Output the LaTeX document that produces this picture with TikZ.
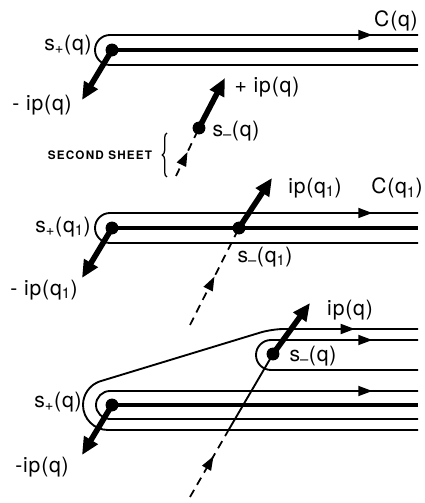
\documentclass[tikz,border=0pt]{standalone}
\usepackage{fontspec}
\setmainfont{TeX Gyre Heros}[LetterSpace=4]
\newfontfamily\sheetfont{TeX Gyre Heros}[LetterSpace=10]
\usetikzlibrary{arrows.meta,decorations.markings,decorations.pathreplacing}

\begin{document}
\begin{tikzpicture}[
x=0.03cm, y=0.03cm,
contour/.style={line width=1.6pt},
cut/.style={line width=3pt},
dot/.style={circle, fill, inner sep=0pt, minimum size=11pt},
push/.style={-{Triangle[length=15pt, width=13pt]}, line width=4.8pt},
sheet/.style={line width=1.5pt, dash pattern=on 7pt off 5pt},
flow/.style={postaction={decorate, decoration={markings, mark=at position #1 with {\arrow[solid]{Triangle[length=12pt, width=8.5pt]}}}}},
flow/.default=-39pt,
lbl/.style={font=\fontsize{18}{20}\selectfont, inner sep=0pt}
]
\useasboundingbox (0,0) rectangle (425,503);

% first sheet, C(q)
\node[dot] (sp1) at (112,453) {};
\node[dot] (sm1) at (199,375) {};
\coordinate (e1) at (418,453);
\coordinate (m1) at (82,403);
\coordinate (p1) at (225,425);
\coordinate (d1) at (176,327);
\draw[contour, flow] (418,438) -- (110,438) arc (270:90:15) -- (418,468);
\draw[cut] (sp1.center) -- (e1);
\draw[push] (sp1.center) -- (m1);
\draw[push] (sm1.center) -- (p1);
\draw[sheet, flow=0.5] (d1) -- (sm1.center);
\node[lbl] (c1) at (396,482) {C(q)};
\node[lbl] (lsp1) at (68,458) {s\textsubscript{+}(q)};
\node[lbl] (lm1) at (42,398) {- ip(q)};
\node[lbl] (lp1) at (267,416) {+ ip(q)};
\node[lbl] (lsm1) at (236,372) {s\textsubscript{\textendash}(q)};
\node[font=\sheetfont\fontsize{10}{11}\selectfont\bfseries, inner sep=0pt] (sheet) at (100,348) {SECOND SHEET};
\coordinate (b1) at (167,326);
\coordinate (b2) at (167,370);
\draw[line width=1.1pt, decorate, decoration={brace, amplitude=4pt}] (b1) -- (b2);

% C(q_1)
\node[dot] (sp2) at (112,275) {};
\node[dot] (sm2) at (239,275) {};
\coordinate (e2) at (418,275);
\coordinate (m2) at (82,225);
\coordinate (p2) at (272,325);
\coordinate (d2) at (190,178);
\draw[contour, flow] (418,260) -- (110,260) arc (270:90:15) -- (418,290);
\draw[cut] (sp2.center) -- (e2);
\draw[push] (sp2.center) -- (m2);
\draw[push] (sm2.center) -- (p2);
\draw[sheet, flow=0.5] (d2) -- (sm2.center);
\node[lbl] (c2) at (397,315) {C(q\textsubscript{1})};
\node[lbl] (lsp2) at (63,276) {s\textsubscript{+}(q\textsubscript{1})};
\node[lbl] (lm2) at (44,213) {- ip(q\textsubscript{1})};
\node[lbl] (lp2) at (315,315) {ip(q\textsubscript{1})};
\node[lbl] (lsm2) at (265,246) {s\textsubscript{\textendash}(q\textsubscript{1})};

% deformed contour
\node[dot] (sp3) at (112,98) {};
\node[dot] (sm3) at (273,149) {};
\coordinate (e3) at (418,98);
\coordinate (m3) at (82,48);
\coordinate (p3) at (310,200);
\coordinate (k3) at (228,72);
\coordinate (d3) at (190,6);
\draw[contour, flow] (418,84) -- (110,84) arc (270:90:14) -- (418,112);
\draw[contour, flow=-54pt] (418,73) -- (108,73) arc (270:110:25)
  [rounded corners=10pt] -- (272,174) -- (418,174);
\draw[contour, flow] (418,133) -- (271,133) arc (270:90:15) -- (418,163);
\draw[cut] (sp3.center) -- (e3);
\draw[push] (sp3.center) -- (m3);
\draw[push] (sm3.center) -- (p3);
\draw[contour] (sm3.center) -- (k3);
\draw[sheet, flow=0.62] (d3) -- (k3);
\node[lbl] (lp3) at (350,193) {ip(q)};
\node[lbl] (lsm3) at (313,147) {s\textsubscript{\textendash}(q)};
\node[lbl] (lsp3) at (58,101) {s\textsubscript{+}(q)};
\node[lbl] (lm3) at (42,36) {-ip(q)};
\end{tikzpicture}
\end{document}
